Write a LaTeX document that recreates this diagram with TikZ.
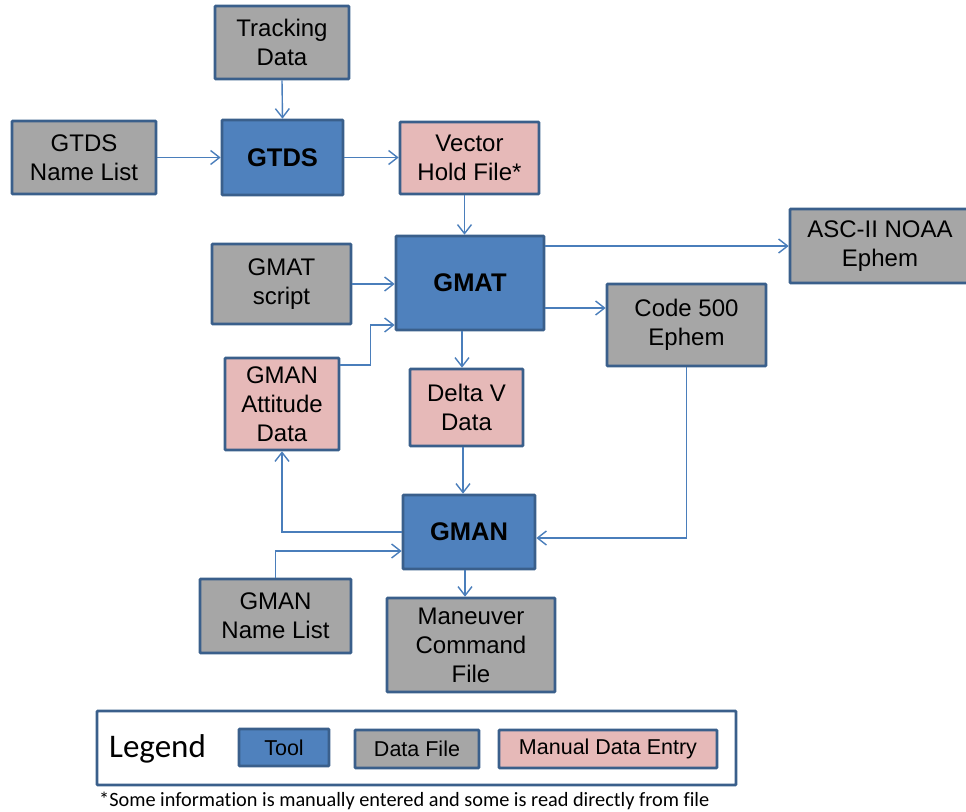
\documentclass[tikz,border=0pt]{standalone}
\usepackage{fontspec}
\setmainfont{Liberation Sans}
\newfontfamily\calfont[Ligatures=NoCommon]{Carlito}
\usetikzlibrary{arrows.meta,calc}
\definecolor{toolfill}{HTML}{4F81BD}
\definecolor{boxborder}{HTML}{3A5F8B}
\definecolor{datafill}{HTML}{A6A6A6}
\definecolor{manfill}{HTML}{E6B9B8}
\definecolor{linkcol}{HTML}{4A7EBB}
\tikzset{
  box/.style={draw=boxborder, line width=2.6pt, inner sep=0pt, align=center,
    font=\fontsize{24}{29}\selectfont, rounded corners=0.8pt},
  tool/.style={box, fill=toolfill, font=\fontsize{25.5}{30}\selectfont\bfseries},
  datafile/.style={box, fill=datafill},
  manual/.style={box, fill=manfill},
  arr/.style={draw=linkcol, line width=1.4pt, -{Straight Barb[length=9pt,width=14pt,line width=1.4pt]}},
  lgd/.style={draw=boxborder, line width=2.6pt, inner sep=0pt, font=\fontsize{21.5}{26}\selectfont, rounded corners=0.8pt}
}
\begin{document}
\begin{tikzpicture}[x=1pt,y=-1pt]
\useasboundingbox (0,0) rectangle (966,811);
\node[datafile, minimum width=134pt, minimum height=73pt] (track) at (282,42.5) {Tracking\\Data};
\node[datafile, minimum width=144pt, minimum height=73pt] (gtdsnl) at (84,157.5) {GTDS\\Name List};
\node[tool, minimum width=121pt, minimum height=75pt] (gtds) at (282.5,157.5) {GTDS};
\node[manual, minimum width=139pt, minimum height=72pt] (vhf) at (469.5,158) {Vector\\Hold File*};
\node[tool, minimum width=148pt, minimum height=94pt] (gmat) at (470,283) {GMAT};
\node[datafile, minimum width=180pt, minimum height=74pt] (asc) at (880,246) {ASC-II NOAA\\Ephem};
\node[datafile, minimum width=139pt, minimum height=80pt] (gscript) at (281.5,284) {GMAT\\script};
\node[datafile, minimum width=159pt, minimum height=82pt] (code) at (686.5,325) {Code 500\\Ephem};
\node[manual, minimum width=114pt, minimum height=92pt] (gatt) at (282,404) {GMAN\\Attitude\\Data};
\node[manual, minimum width=113pt, minimum height=77pt] (dv) at (466.5,407.5) {Delta V\\Data};
\node[tool, minimum width=132pt, minimum height=74pt] (gman) at (469,532) {GMAN};
\node[datafile, minimum width=151pt, minimum height=74pt] (gmannl) at (275.5,616) {GMAN\\Name List};
\node[datafile, minimum width=168pt, minimum height=94pt] (mcf) at (471,645) {Maneuver\\Command\\File};
% legend
\node[draw=boxborder, line width=2.6pt, fill=white, minimum width=639pt, minimum height=74pt, inner sep=0pt, rounded corners=0.8pt] (legend) at (416.5,748) {};
\node[anchor=west, font=\calfont\fontsize{33}{36}\selectfont, inner sep=0pt] (legtxt) at (109,749) {Legend};
\node[lgd, fill=toolfill, minimum width=90pt, minimum height=37pt] (ltool) at (284,747.5) {Tool};
\node[lgd, fill=datafill, minimum width=124pt, minimum height=38pt] (ldata) at (417,749) {Data File};
\node[lgd, fill=manfill, minimum width=218pt, minimum height=38pt] (lman) at (608,749) {Manual Data Entry};
\node[anchor=west, font=\calfont\fontsize{20.3}{23}\selectfont, inner sep=0pt] (foot) at (99,801) {*Some information is manually entered and some is read directly from file};
% connectors
\draw[arr] (track.south) -- (gtds.north);
\draw[arr] (gtdsnl.east) -- (gtds.west);
\draw[arr] (gtds.east) -- (gtds.east -| vhf.west);
\draw[arr] ([xshift=-5pt]vhf.south) -- ([xshift=-5pt]vhf.south |- gmat.north);
\draw[arr] (asc.west -| gmat.east) -- (asc.west);
\draw[arr] ([yshift=-25pt]gmat.east) -- ([yshift=-25pt]gmat.east -| code.west);
\draw[arr] (gscript.east) -- (gscript.east -| gmat.west);
\draw[arr] ([yshift=39pt]gatt.east) -- ++(30,0) |- ([yshift=-42pt]gmat.west);
\draw[arr] ([xshift=-8pt]gmat.south) -- ([xshift=-8pt]gmat.south |- dv.north);
\draw[arr] ([xshift=-3.5pt]dv.south) -- ([xshift=-3.5pt]dv.south |- gman.north);
\draw[arr] (gman.west) -| (gatt.south);
\draw[arr] (gmannl.north) |- ([yshift=-19pt]gman.west);
\draw[arr] (code.south) |- ([yshift=-6pt]gman.east);
\draw[arr] ([xshift=-4pt]gman.south) -- ([xshift=-4pt]gman.south |- mcf.north);
\end{tikzpicture}
\end{document}
